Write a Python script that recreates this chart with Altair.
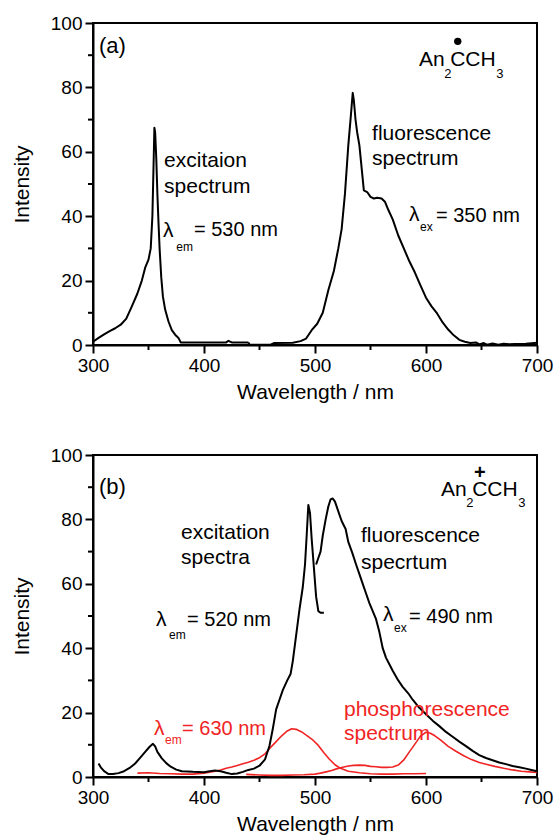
import altair as alt
import pandas as pd

# ---------------- Panel (a) data ----------------
a_exc_nm = [300, 305, 310, 315, 320, 325, 330, 335, 340, 344, 347, 350, 352, 353.5, 354.5, 355.3, 356,
            357, 358, 359, 360, 361.5, 363, 365, 368, 371, 374, 377, 379, 390, 410, 420, 422, 425, 440]
a_exc_I = [1.0, 2.2, 3.3, 4.3, 5.2, 6.3, 8.2, 12, 16, 20, 24, 26.5, 30, 40, 55, 67.5, 66,
           58, 47, 38, 30, 21, 15, 11, 7.3, 4.6, 3.2, 2.2, 0.8, 0.8, 0.8, 0.8, 1.3, 0.8, 0.8]

a_flu_nm = [440, 441, 460, 463, 480, 487, 492, 497, 502, 507, 512, 517, 521, 524, 527, 530, 532, 534,
            535, 536.5, 538, 540, 542, 544, 547, 550, 553, 556, 560, 563, 566, 570, 575, 580, 585,
            590, 595, 600, 605, 610, 615, 620, 625, 630, 635, 640, 645, 648, 652, 655, 660, 665, 670,
            675, 680, 690, 700]
a_flu_I = [0.8, 0.1, 0.1, 0.6, 0.7, 1.2, 2.0, 4.6, 6.6, 10, 17, 23, 30, 36, 47, 62, 70, 78.3,
           76, 70, 66, 62, 55, 48, 47.5, 46, 45.5, 45.7, 45.5, 44.5, 42, 39, 34, 30, 26,
           22.5, 18.5, 14.7, 12, 9.8, 7, 4.8, 3, 1.6, 1, 0.6, 0.8, 0.2, 0.6, 0.1, 0.5, 0.1, 0.4,
           0.2, 0.3, 0.4, 0.7]

# ---------------- Panel (b) data ----------------
b_exc_nm = [305, 307, 310, 314, 318, 323, 328, 333, 338, 343, 347, 351, 354, 356, 358, 362, 366, 370,
            375, 380, 390, 400, 405, 410, 415, 420, 425, 430, 435, 440, 445, 450, 455, 459, 462, 465,
            468, 471, 475, 478, 480, 483, 486, 489, 491, 492.5, 494, 495.5, 497, 499, 501, 503, 505, 508]
b_exc_I = [4.2, 3.0, 1.8, 0.9, 0.9, 1.2, 1.8, 2.8, 4.2, 6.2, 7.8, 9.4, 10.3, 9.5, 7.8, 5.8, 4.3, 3.2,
           2.3, 1.8, 1.6, 1.5, 1.8, 2.0, 1.8, 1.3, 0.9, 1.1, 1.6, 2.2, 2.6, 3.5, 5.5, 9.7, 15, 21,
           24, 27, 30, 32, 36, 44, 52, 59, 66, 75, 84.5, 82, 74, 65, 56, 51.5, 51, 51]

b_flu_nm = [501, 503, 505, 507, 509.6, 512, 514, 516, 518, 521, 524, 527.6, 530, 533.6, 537, 540, 543,
            546, 549, 552, 555, 558, 561, 564, 567, 570, 575, 579, 584, 588, 594, 600, 606, 612, 618,
            624, 630, 636, 642, 648, 654, 660, 666, 672, 678, 684, 690, 695, 700]
b_flu_I = [66, 68, 70, 75, 80, 84, 86.2, 86.5, 85.5, 82.5, 79.5, 77, 73, 69.6, 66, 63, 60,
           57, 54, 51.5, 49, 45, 40, 37, 35, 33, 30, 28, 26, 24, 21.5, 19.5, 17.5, 15.8, 14,
           12.5, 11, 9.6, 8.1, 6.8, 5.9, 5.2, 4.5, 4.0, 3.4, 3.0, 2.6, 2.2, 1.8]

b_rexc_nm = [340, 350, 360, 370, 380, 390, 400, 405, 410, 415, 420, 425, 430, 435, 440, 445, 450, 455,
             460, 465, 470, 475, 479, 483, 488, 493, 498, 503, 508, 513, 518, 523, 530, 540, 550, 560,
             570, 580, 590, 600]
b_rexc_I = [1.2, 1.3, 1.1, 1.0, 0.9, 0.9, 1.2, 1.5, 1.8, 2.2, 2.7, 3.1, 3.6, 4.1, 4.6, 5.2, 6.0, 7.2,
            9.2, 11, 12.8, 14.3, 15, 14.8, 14, 12.8, 11.5, 9.8, 7.5, 5.5, 3.8, 2.7, 1.8, 1.3, 1.0, 0.9,
            0.9, 1.0, 1.0, 1.1]

b_phos_nm = [438, 450, 460, 470, 480, 490, 500, 505, 510, 515, 520, 525, 530, 535, 540, 545, 550, 555,
             560, 565, 570, 575, 580, 585, 590, 595, 600, 604, 608, 613, 620, 627, 634, 641, 648, 655,
             662, 670, 678, 686, 693, 700]
b_phos_I = [0.8, 0.6, 0.5, 0.5, 0.6, 0.7, 0.9, 1.2, 1.6, 2.0, 2.6, 3.0, 3.4, 3.6, 3.7, 3.6, 3.3, 3.2,
            3.0, 3.0, 3.1, 3.7, 5.3, 7.8, 10.2, 12.7, 13.9, 13.6, 12.8, 11.5, 9.5, 8.0, 6.6, 5.4, 4.5, 3.9,
            3.3, 2.7, 2.2, 1.8, 1.6, 1.4]

# axis ticks
x_major = [300, 400, 500, 600, 700]
x_minor = [350, 450, 550, 650]
y_major = [0, 20, 40, 60, 80, 100]
y_minor = [10, 30, 50, 70, 90]

BLACK = "#000000"
RED = "#f02424"
FONT = "Liberation Sans"
W, H = 444, 322
TAG = 22     # (a), (b)
NOTE = 21    # words
EQ = 20      # "= 530 nm" etc.
FORM = 21
SUB = 12


def lines_df(parts):
    rows = []
    for name, xs, ys, color, w in parts:
        for x, y in zip(xs, ys):
            rows.append({"series": name, "nm": x, "I": y, "color": color, "w": w})
    return pd.DataFrame(rows)


# annotations: (nm, intensity, text, font size, color)
a_notes = [
    (305.4, 92.9, "(a)", TAG, BLACK),
    (364.0, 57.1, "excitaion", NOTE, BLACK),
    (364.0, 49.1, "spectrum", NOTE, BLACK),
    (363.1, 35.4, "λ", NOTE, BLACK),
    (375.0, 30.3, "em", SUB, BLACK),
    (391.0, 35.7, "= 530 nm", EQ, BLACK),
    (551.4, 65.5, "fluorescence", NOTE, BLACK),
    (551.4, 57.8, "spectrum", NOTE, BLACK),
    (584.7, 40.4, "λ", NOTE, BLACK),
    (594.6, 36.6, "ex", SUB, BLACK),
    (609.0, 40.1, "= 350 nm", EQ, BLACK),
    (593.7, 88.5, "An", FORM, BLACK),
    (616.4, 84.3, "2", 13, BLACK),
    (621.8, 88.5, "CCH", FORM, BLACK),
    (663.2, 84.3, "3", 13, BLACK),
]
a_dot = [(628.6, 94.3)]

b_notes = [
    (305.4, 90.1, "(b)", TAG, BLACK),
    (379.3, 75.9, "excitation", NOTE, BLACK),
    (379.3, 68.1, "spectra", NOTE, BLACK),
    (356.8, 48.9, "λ", NOTE, BLACK),
    (368.5, 44.0, "em", SUB, BLACK),
    (384.7, 48.9, "= 520 nm", EQ, BLACK),
    (541.4, 74.9, "fluorescence", NOTE, BLACK),
    (541.4, 66.6, "specrtum", NOTE, BLACK),
    (561.3, 50.2, "λ", NOTE, BLACK),
    (571.2, 46.4, "ex", SUB, BLACK),
    (584.7, 49.8, "= 490 nm", EQ, BLACK),
    (613.5, 89.2, "An", FORM, BLACK),
    (636.3, 85.0, "2", 13, BLACK),
    (641.6, 89.2, "CCH", FORM, BLACK),
    (683.2, 85.0, "3", 13, BLACK),
    (355.0, 14.9, "λ", NOTE, RED),
    (364.9, 11.5, "em", SUB, RED),
    (380.2, 14.9, "= 630 nm", EQ, RED),
    (526.1, 20.7, "phosphorescence", NOTE, RED),
    (526.1, 13.3, "spectrum", NOTE, RED),
]
b_plus = [(648.4, 94.4, "+")]

x_scale = alt.Scale(domain=[300, 700], nice=False, zero=False)
y_scale = alt.Scale(domain=[0, 100], nice=False)


def x_axis():
    return alt.Axis(values=x_major, tickSize=8, title="Wavelength / nm",
                    labelPadding=3, titlePadding=6, labelFlush=False)


def y_axis():
    return alt.Axis(values=y_major, tickSize=8, title="Intensity",
                    labelPadding=3, titlePadding=18, labelFlush=False)


def panel(parts, notes, extra):
    df = lines_df(parts)
    lines = alt.Chart(df).mark_line(strokeJoin="round").encode(
        x=alt.X("nm:Q", scale=x_scale, axis=x_axis()),
        y=alt.Y("I:Q", scale=y_scale, axis=y_axis()),
        detail="series:N",
        color=alt.Color("color:N", scale=None),
        strokeWidth=alt.StrokeWidth("w:Q", scale=None),
        order="nm:Q",
    )
    ndf = pd.DataFrame(notes, columns=["nm", "I", "text", "fs", "color"])
    texts = alt.Chart(ndf).mark_text(align="left", baseline="middle", font=FONT).encode(
        x=alt.X("nm:Q", scale=x_scale),
        y=alt.Y("I:Q", scale=y_scale),
        text="text:N",
        size=alt.Size("fs:Q", scale=None),
        color=alt.Color("color:N", scale=None),
    )
    # minor ticks, drawn outside the frame like the axis ticks
    xm = alt.Chart(pd.DataFrame({"nm": x_minor})).mark_rule(color=BLACK, strokeWidth=2).encode(
        x=alt.X("nm:Q", scale=x_scale), y=alt.value(H), y2=alt.value(H + 5))
    ym = alt.Chart(pd.DataFrame({"I": y_minor})).mark_rule(color=BLACK, strokeWidth=2).encode(
        y=alt.Y("I:Q", scale=y_scale), x=alt.value(0), x2=alt.value(-5))
    return alt.layer(lines, xm, ym, texts, *extra).properties(width=W, height=H)


dot = alt.Chart(pd.DataFrame(a_dot, columns=["nm", "I"])).mark_point(
    filled=True, color=BLACK, size=55, opacity=1, shape="circle").encode(
    x=alt.X("nm:Q", scale=x_scale), y=alt.Y("I:Q", scale=y_scale))

plus = alt.Chart(pd.DataFrame(b_plus, columns=["nm", "I", "text"])).mark_text(
    font=FONT, fontSize=20, fontWeight="bold", align="center", baseline="middle", color=BLACK).encode(
    x=alt.X("nm:Q", scale=x_scale), y=alt.Y("I:Q", scale=y_scale), text="text:N")

pa = panel([("a_exc", a_exc_nm, a_exc_I, BLACK, 2.0),
            ("a_flu", a_flu_nm, a_flu_I, BLACK, 2.0)], a_notes, [dot])
pb = panel([("b_rexc", b_rexc_nm, b_rexc_I, RED, 1.6),
            ("b_phos", b_phos_nm, b_phos_I, RED, 1.6),
            ("b_exc", b_exc_nm, b_exc_I, BLACK, 2.0),
            ("b_flu", b_flu_nm, b_flu_I, BLACK, 2.0)], b_notes, [plus])

chart = alt.vconcat(pa, pb, spacing=42).properties(
    padding={"left": 10, "top": 13, "right": 5, "bottom": 5}
).configure_view(stroke=BLACK, strokeWidth=2).configure_axis(
    grid=False, domainColor=BLACK, domainWidth=2, tickColor=BLACK, tickWidth=2, ticks=True,
    labelFont=FONT, labelFontSize=19, labelColor=BLACK,
    titleFont=FONT, titleFontSize=21, titleFontWeight="normal", titleColor=BLACK,
)

chart.save("out.html", embed_options={"renderer": "svg", "actions": False})
